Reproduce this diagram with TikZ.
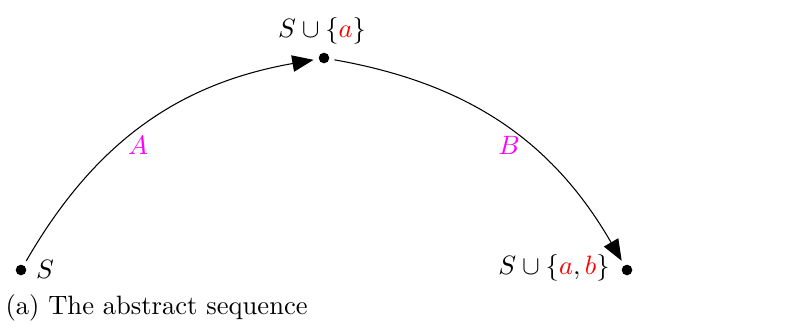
\documentclass[tikz,border=0pt]{standalone}
\usetikzlibrary{arrows.meta}
\definecolor{lblmag}{RGB}{255,0,255}
\begin{document}
\begin{tikzpicture}[x=0.3765pt,y=-0.3765pt,
  dotnode/.style={circle,fill=black,inner sep=0pt,minimum size=4pt,outer sep=2pt},
  edgelbl/.style={text=lblmag},
  arr/.style={-{Triangle[length=8pt,width=6.2pt]},line width=0.4pt}]
\useasboundingbox (0,0) rectangle (802,326);
\node[dotnode] (s) at (21,270) {};
\node[dotnode] (t) at (324,58) {};
\node[dotnode] (u) at (627,270) {};
\node (sl) at (45,269) {$S$};
\node (tl) at (322,31) {$S\cup\{\textcolor{red}{a}\}$};
\node (ul) at (554,268) {$S\cup\{\textcolor{red}{a},\textcolor{red}{b}\}$};
\draw[arr] (s) to[bend left=25] (t);
\draw[arr] (t) to[bend left=25] (u);
\node[edgelbl] (la) at (138,145) {$A$};
\node[edgelbl] (lb) at (509,145) {$B$};
\node[anchor=west,inner sep=0pt] (cap) at (5,308) {(a) The abstract sequence};
\end{tikzpicture}
\end{document}
